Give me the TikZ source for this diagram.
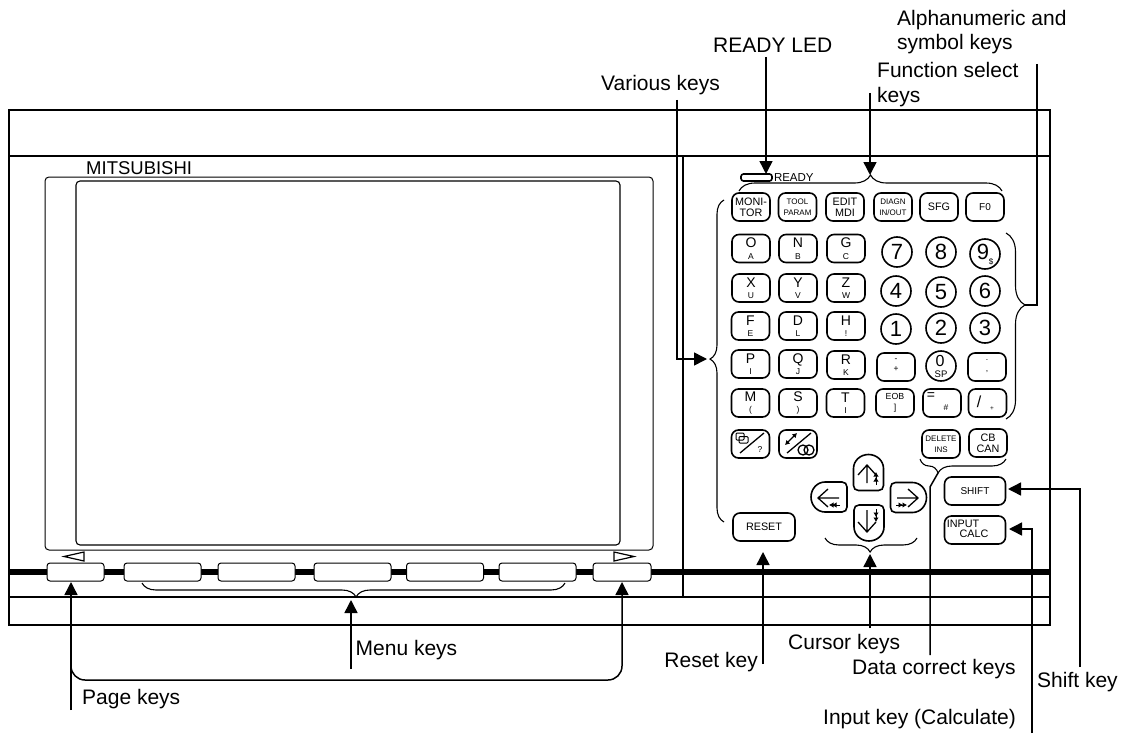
\documentclass[tikz,border=0pt]{standalone}
\usepackage{fontspec}
\setmainfont{Liberation Sans}
\usetikzlibrary{arrows.meta,decorations.pathreplacing,positioning}
\newcommand{\lfont}{\fontsize{21}{24.5}\selectfont}
\newcommand{\bfont}{\fontsize{14}{12.5}\selectfont}
\newcommand{\mfont}{\fontsize{10.8}{10.6}\selectfont}
\newcommand{\sfont}{\fontsize{8}{10.8}\selectfont}
\newcommand{\tfont}{\fontsize{8.5}{10}\selectfont}
\begin{document}
\begin{tikzpicture}[x=1pt,y=-1pt,font=\lfont,
  frm/.style={line width=1.5pt},
  lbl/.style={anchor=west,align=left,inner sep=0pt},
  tag/.style={inner sep=0pt},
  softkey/.style={draw,fill=white,line width=1pt,rounded corners=3pt,minimum height=18pt,inner sep=0pt},
  keycap/.style={draw,line width=1.6pt,rounded corners=7pt,minimum width=38pt,minimum height=28pt,inner sep=0pt,align=center,font=\bfont},
  numkey/.style={draw,circle,line width=1.6pt,minimum size=30pt,inner sep=0pt,font=\fontsize{22}{22}\selectfont},
  lead/.style={line width=1.5pt},
  arw/.style={line width=1.5pt,-{Triangle[length=13pt,width=13pt]}},
  brc/.style n args={2}{line width=1.1pt,decorate,decoration={brace,amplitude=#1,aspect=#2}},
  glyph/.style={line width=1.3pt},
  mini/.style={line width=1pt,-{Latex[length=4.5pt,width=5.5pt]}},
  domekey/.pic={\draw[line width=1.6pt] (-10,18) -- (10,18) .. controls (13,18) and (15,16) .. (15,13) -- (15,-4) .. controls (15,-12) and (8,-18) .. (0,-18) .. controls (-8,-18) and (-15,-12) .. (-15,-4) -- (-15,13) .. controls (-15,16) and (-13,18) .. (-10,18) -- cycle;}]
  \useasboundingbox (0,0) rectangle (1126,733);
  % ---------- panel
  \draw[frm] (9,110) rectangle (1050,625);
  \draw[frm] (9,156) -- (1050,156);
  \draw[frm] (9,597) -- (1050,597);
  \draw[frm] (683,156) -- (683,597);
  \draw[line width=6.5pt] (9,572) -- (1050,572);
  \node[lbl,font=\fontsize{18.5}{20}\selectfont] (brand) at (86,168) {MITSUBISHI};
  \draw[line width=1pt,rounded corners=4pt] (45,177) rectangle (653,550);
  \draw[line width=1.1pt,rounded corners=4pt] (76,181) rectangle (620,545);
  % ---------- soft keys
  \node[softkey,minimum width=57pt] (pgl) at (75.5,572) {};
  \node[softkey,minimum width=77pt] (mn1) at (162.5,572) {};
  \node[softkey,minimum width=77pt] (mn2) at (256.5,572) {};
  \node[softkey,minimum width=77pt] (mn3) at (352.5,572) {};
  \node[softkey,minimum width=77pt] (mn4) at (445,572) {};
  \node[softkey,minimum width=77pt] (mn5) at (537.5,572) {};
  \node[softkey,minimum width=58pt] (pgr) at (622,572) {};
  \draw[line width=1.2pt] (64,556.5) -- (84,552) -- (84,561) -- cycle;
  \draw[line width=1.2pt] (634,556.5) -- (614,552) -- (614,561) -- cycle;
  % ---------- function keys
  \node[keycap,font=\mfont] (kmon) at (751,207) {MONI-\\TOR};
  \node[keycap,font=\sfont] (ktool) at (797.5,207) {TOOL\\PARAM};
  \node[keycap,font=\mfont] (kedit) at (845,207) {EDIT\\MDI};
  \node[keycap,font=\sfont] (kdiag) at (893,207) {DIAGN\\IN/OUT};
  \node[keycap,font=\mfont] (ksfg) at (939,207) {SFG};
  \node[keycap,font=\fontsize{10}{12}\selectfont] (kfz) at (985,207) {F0};
  % ---------- letter keys
  \foreach \nm/\px/\py/\up/\dn in {O/751/248.5/O/A,N/798/248.5/N/B,G/846/248.5/G/C,
      X/751/288/X/U,Y/798/288/Y/V,Z/846/288/Z/W,
      F/750.5/326/F/E,D/798/326/D/L,H/846/326/H/!,
      P/750.5/364/P/I,Q/798/364/Q/J,R/846/365/R/K,
      M/750.5/403/M/(,S/798/403/S/),T/845.5/403/T/I}{
    \node[keycap] (k\nm) at (\px,\py) {\up\\[-1pt]{\tfont\dn}};
  }
  % ---------- number keys
  \foreach \nm/\px/\py in {7/897/252,8/941/252,4/896/291,5/941/292,6/985/291,1/896/329,2/941/328,3/985/328}{
    \node[numkey] (n\nm) at (\px,\py) {\nm};
  }
  \node[numkey] (n9) at (985,254) {};
  \node[tag,font=\fontsize{22}{22}\selectfont] (n9a) at (983,252) {9};
  \node[tag,font=\fontsize{8}{9}\selectfont] (n9b) at (991,262) {\$};
  \node[numkey] (n0) at (941,366) {};
  \node[tag,font=\fontsize{16}{16}\selectfont] (n0a) at (940,361) {0};
  \node[tag,font=\fontsize{9.5}{11}\selectfont] (n0b) at (941,374.5) {SP};
  % ---------- symbol keys
  \node[keycap] (kmin) at (896,367) {};
  \node[tag,font=\tfont] (kmina) at (896,360) {-};
  \node[tag,font=\tfont] (kminb) at (896,369) {+};
  \node[keycap] (kcol) at (987,367) {};
  \node[tag,font=\tfont] (kcola) at (987,360) {.};
  \node[tag,font=\tfont] (kcolb) at (987,372) {,};
  \node[keycap,font=\fontsize{8.8}{11}\selectfont] (keob) at (895,403) {EOB\\]};
  \node[keycap] (keq) at (942,403) {};
  \node[tag,font=\bfont] (keqa) at (931,396) {=};
  \node[tag,font=\tfont] (keqb) at (946,408) {\#};
  \node[keycap] (ksl) at (987.5,403) {};
  \node[tag,font=\fontsize{16}{16}\selectfont] (ksla) at (979,402) {/};
  \node[tag,font=\fontsize{6.5}{7}\selectfont] (kslb) at (992,409) {+};
  % ---------- edit keys
  \node[keycap] (kwin) at (750.5,444) {};
  \node[keycap] (kchg) at (798,444) {};
  \node[tag,font=\tfont] (kq) at (760,450) {?};
  \draw[glyph] (740,453) -- (764,433);
  \draw[line width=1pt,rounded corners=1pt] (736,433) rectangle (744,440) (739,436.5) rectangle (748,443);
  \draw[glyph] (787,453) -- (811,433);
  \draw[line width=1.1pt,{Latex[length=4.5pt,width=5.5pt]}-{Latex[length=4.5pt,width=5.5pt]}] (785,445) -- (797,433);
  \draw[line width=1.3pt] (803,450) circle (5pt) (809,450) circle (5pt);
  \node[keycap,font=\sfont] (kdel) at (941,444) {DELETE\\INS};
  \node[keycap,font=\mfont] (kcan) at (988,443) {CB\\CAN};
  \node[keycap,minimum width=61pt,font=\fontsize{10}{12}\selectfont] (kshf) at (975,491) {SHIFT};
  \node[keycap,minimum width=61pt] (kinp) at (975,530) {};
  \node[tag,font=\mfont] (kinpa) at (963,524) {INPUT};
  \node[tag,font=\mfont] (kinpb) at (974,534) {CALC};
  \node[keycap,minimum width=62pt,font=\fontsize{10.8}{12}\selectfont] (krst) at (764,527) {RESET};
  % ---------- cursor keys
  \foreach \nm/\px/\py/\rot in {up/868.5/472.5/0,dn/869/523/180,lf/829/497/90,rt/908.5/497.5/-90}{
    \pic[rotate=\rot] (cur\nm) at (\px,\py) {domekey};
  }
  % up
  \draw[glyph] (867,483) -- (867,465) (858,475) -- (867,465) -- (876,475);
  \draw[mini] (876,485) -- (876,477); \draw[mini] (876,480) -- (876,472);
  % down
  \draw[glyph] (867,510) -- (867,532) (858,522) -- (867,532) -- (876,522);
  \draw[mini] (876,509) -- (876,517); \draw[mini] (876,514) -- (876,522);
  % left
  \draw[glyph] (839,498) -- (818,498) (828,489) -- (818,498) -- (828,507);
  \draw[mini] (840,505) -- (832,505); \draw[mini] (836,505) -- (829,505);
  % right
  \draw[glyph] (897,498) -- (918,498) (908,489) -- (918,498) -- (908,507);
  \draw[mini] (896,505) -- (903,505); \draw[mini] (900,505) -- (907,505);
  % ---------- ready led
  \node[draw,line width=1.6pt,rounded corners=2.5pt,minimum width=31pt,minimum height=7pt,inner sep=0pt] (led) at (756.5,177.5) {};
  \node[right=1pt of led,inner sep=0pt,font=\fontsize{11.5}{12}\selectfont] (ledtxt) {READY};
  % ---------- braces
  \draw[brc={16pt}{0.5}] (739,191) -- (1002,191);
  \draw[brc={14pt}{0.506}] (724,522) -- (724,200);
  \draw[brc={19pt}{0.387}] (1006,233) -- (1006,419);
  \draw[brc={14pt}{0.494}] (565,583) -- (142,583);
  \draw[brc={14pt}{0.51}] (917,538) -- (825,538);
  \draw[brc={14pt}{0.79}] (1006,459) -- (920,459);
  % ---------- labels
  \node[lbl] (lbalpha) at (897,32) {Alphanumeric and\\symbol keys};
  \node[lbl] (lbready) at (713,45) {READY LED};
  \node[lbl] (lbfunc) at (877,84.5) {Function select\\keys};
  \node[lbl] (lbvar) at (601,85) {Various keys};
  \node[lbl] (lbmenu) at (355.5,650) {Menu keys};
  \node[lbl] (lbpage) at (82,699) {Page keys};
  \node[lbl,anchor=east] (lbreset) at (758,662) {Reset key};
  \node[lbl] (lbcursor) at (788,644) {Cursor keys};
  \node[lbl] (lbdata) at (852,669) {Data correct keys};
  \node[lbl] (lbshift) at (1037,682) {Shift key};
  \node[lbl] (lbinput) at (823,719) {Input key (Calculate)};
  % ---------- connectors
  \coordinate (cready) at (766,57);   \coordinate (tready) at (766,174);
  \coordinate (cfunc) at (870,93);    \coordinate (tfunc) at (870,175);
  \coordinate (calpha) at (1037,64);  \coordinate (talpha) at (1025,305);
  \coordinate (cvar) at (677,100);    \coordinate (tvar) at (707,359);
  \coordinate (cmenu) at (351,669);   \coordinate (tmenu) at (351,600);
  \coordinate (cpage) at (71,710);    \coordinate (tpage) at (71,582);
  \coordinate (cpagea) at (71,662);   \coordinate (cpageb) at (71,680);
  \coordinate (cpagec) at (622,680);  \coordinate (tpager) at (622,582);
  \coordinate (creset) at (763,664);  \coordinate (treset) at (763,552);
  \coordinate (ccursor) at (870,628); \coordinate (tcursor) at (870,554);
  \coordinate (cdata) at (930,655);   \coordinate (cdatab) at (930,487);
  \coordinate (tdata) at (938,473);
  \coordinate (cshift) at (1080,667); \coordinate (tshift) at (1008,489);
  \coordinate (cinput) at (1032,733); \coordinate (tinput) at (1009,529);
  \draw[arw] (cready) -- (tready);
  \draw[arw] (cfunc) -- (tfunc);
  \draw[lead] (calpha) |- (talpha);
  \draw[arw] (cvar) |- (tvar);
  \draw[arw] (cmenu) -- (tmenu);
  \draw[arw] (cpage) -- (tpage);
  \draw[arw,rounded corners=14pt] (cpagea) -- (cpageb) -- (cpagec) -- (tpager);
  \draw[arw] (creset) -- (treset);
  \draw[arw] (ccursor) -- (tcursor);
  \draw[lead] (cdata) -- (cdatab) -- (tdata);
  \draw[arw] (cshift) |- (tshift);
  \draw[arw] (cinput) |- (tinput);
\end{tikzpicture}
\end{document}
